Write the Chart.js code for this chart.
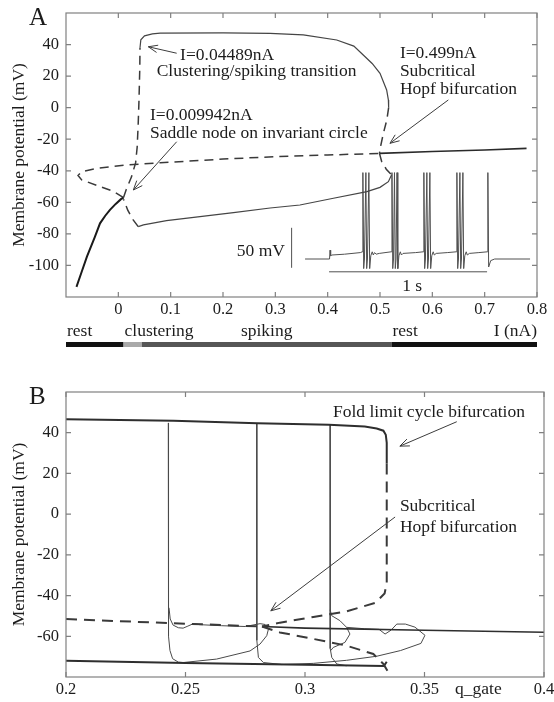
<!DOCTYPE html>
<html>
<head>
<meta charset="utf-8">
<title>Bifurcation diagrams</title>
<script src="https://cdn.jsdelivr.net/npm/chart.js@4.4.1/dist/chart.umd.min.js"></script>
<style>
	body { margin: 0; background: #fff; }
	canvas { position: absolute; left: 0; }
	#chartA { top: 0; }
	#chartB { top: 355px; }
</style>
</head>
<body>
<canvas id="chartA" width="554" height="355"></canvas>
<canvas id="chartB" width="554" height="347"></canvas>
<script>
/* ---------- Panel A: V (mV) against I (nA) ---------- */
const xTicksA = [0, 0.1, 0.2, 0.3, 0.4, 0.5, 0.6, 0.7, 0.8]
const xTickLabelsA = ['0', '0.1', '0.2', '0.3', '0.4', '0.5', '0.6', '0.7', '0.8']
const yTicksA = [-100, -80, -60, -40, -20, 0, 20, 40]

// stable rest state below the saddle node
const restLow = [[-0.08, -113.6], [-0.07, -104], [-0.06, -94.4], [-0.045, -82], [-0.035, -73.3],
	[-0.025, -68.5], [-0.016, -64.8], [-0.005, -61], [0.005, -58], [0.0099, -57]]
// unstable equilibria (saddle and unstable focus)
const eqUnstable = [[0.0099, -57], [-0.01, -53], [-0.035, -50], [-0.07, -45.8], [-0.077, -43],
	[-0.07, -40.6], [-0.04, -38.4], [0.016, -36.3], [0.08, -34.9], [0.2, -32.6], [0.303, -31],
	[0.4, -30], [0.499, -29]]
// stable rest state above the Hopf point
const restHigh = [[0.499, -29], [0.6, -27.8], [0.7, -26.8], [0.78, -25.8]]
// periodic orbit, max and min of V
const cycleMaxUnstableLow = [[0.0099, -57], [0.015, -52], [0.025, -44], [0.033, -35], [0.036, -25],
	[0.038, -10], [0.0395, 5], [0.041, 25], [0.0414, 38]]
const cycleMax = [[0.0414, 38], [0.043, 43], [0.05, 45.5], [0.065, 46.8], [0.08, 47.2], [0.2, 47.4],
	[0.29, 47.1], [0.3535, 46.1], [0.4173, 42.9], [0.45, 39], [0.468, 33.4], [0.485, 28],
	[0.5, 21.8], [0.5127, 11.2], [0.516, 4.9], [0.5165, 0]]
const cycleMaxUnstableHigh = [[0.5165, 0], [0.513, -7.8], [0.5065, -16.2], [0.501, -24.7], [0.499, -29]]
const cycleMinUnstableHigh = [[0.499, -29], [0.503, -34], [0.512, -39], [0.522, -42.6]]
const cycleMin = [[0.522, -42.6], [0.516, -46.9], [0.5, -50.5], [0.475, -53.2], [0.411, -57.4],
	[0.347, -61.7], [0.29, -63.6], [0.22, -66.5], [0.156, -69.1], [0.092, -71.6], [0.048, -74.3],
	[0.038, -75.4]]
const cycleMinUnstableLow = [[0.038, -75.4], [0.028, -71], [0.018, -65], [0.0099, -58]]

// inset voltage trace (time in s, V in mV)
const insetTime = [0, 0.155, 0.158, 0.162, 0.17, 0.25, 0.35, 0.362,
	0.366, 0.371, 0.376, 0.385, 0.39, 0.395, 0.404, 0.409, 0.416, 0.425, 0.432, 0.44, 0.45, 0.47, 0.545,
	0.55, 0.555, 0.56, 0.566, 0.571, 0.576, 0.582, 0.587, 0.594, 0.603, 0.61, 0.62, 0.7, 0.748,
	0.752, 0.757, 0.762, 0.771, 0.776, 0.781, 0.79, 0.795, 0.802, 0.811, 0.818, 0.83, 0.9, 0.957,
	0.961, 0.966, 0.971, 0.98, 0.985, 0.99, 0.999, 1.004, 1.011, 1.02, 1.027, 1.04, 1.1, 1.154,
	1.157, 1.162, 1.175, 1.2, 1.424]
const insetVolt = [-60, -60, -49, -56, -55, -54, -52, -51,
	48, -72, -60, 48, -72, -60, 48, -72, -56, -51, -55, -52, -54, -53, -51,
	48, -72, -60, 48, -72, -60, 48, -72, -56, -51, -55, -53, -52, -51,
	48, -72, -60, 48, -72, -60, 48, -72, -56, -51, -55, -53, -52, -51,
	48, -72, -60, 48, -72, -60, 48, -72, -56, -51, -55, -53, -52, -51,
	48, -70, -62, -60, -60]
const insetVoltBar = [-71, -21]   // 50 mV
const insetTimeBar = [0.152, 1.152] // 1 s

// regimes along I
const regimeEdges = [-0.1, 0.009942, 0.04489, 0.522, 0.8]
const regimeNames = ['rest', 'clustering', 'spiking', 'rest']

/* ---------- Panel B: V (mV) against q_gate ---------- */
const xTicksB = [0.2, 0.25, 0.3, 0.35, 0.4]
const xTickLabelsB = ['0.2', '0.25', '0.3', '0.35', '0.4']
const yTicksB = [-60, -40, -20, 0, 20, 40]

const topCycle = [[0.2, 46.6], [0.245, 45.9], [0.28, 44.7], [0.31, 43.9], [0.325, 43], [0.33, 42.1],
	[0.3328, 41], [0.3338, 39], [0.3342, 35], [0.3342, 24.9]]
const foldUnstableHigh = [[0.3342, 24.9], [0.3342, -34], [0.3333, -39], [0.3295, -43.5], [0.3174, -47.8],
	[0.3035, -50.5], [0.2895, -53.3], [0.282, -55.2]]
const foldUnstableLow = [[0.282, -55.2], [0.2895, -58.1], [0.3035, -61.3], [0.3174, -64.6],
	[0.3286, -68.7], [0.3328, -73.6], [0.3345, -77]]
const eqUnstableB = [[0.2, -51.5], [0.24, -53.4], [0.282, -55.2]]
const eqStableB = [[0.282, -55.2], [0.3, -56], [0.35, -57], [0.4, -58]]
const bottomCycle = [[0.2, -72], [0.25, -73.1], [0.3, -74], [0.333, -74.6], [0.3342, -72.5]]

const traj1 = [[0.2428, 44.8], [0.2428, -40], [0.243, -60], [0.2435, -67], [0.2446, -71],
	[0.247, -72.7], [0.252, -73.2]]
const traj1Settle = [[0.2431, -46], [0.2436, -51.5], [0.2448, -54.5], [0.247, -55.8], [0.249, -56],
	[0.251, -55], [0.2533, -53.8], [0.256, -54.3], [0.265, -54.8], [0.275, -55.2], [0.2812, -53.8],
	[0.2833, -54.2], [0.2847, -56.5], [0.284, -59.7], [0.2812, -63.8], [0.277, -67.2], [0.263, -71.2],
	[0.249, -72.9]]
const traj2 = [[0.2798, 44.6], [0.2798, -40], [0.2799, -62], [0.2805, -70.4], [0.2826, -72.9], [0.29, -73.8]]
const traj3 = [[0.3105, 43.8], [0.3105, -40], [0.3106, -66], [0.3112, -70.4], [0.3133, -73.6], [0.3174, -74.5]]
const traj3Loop = [[0.3105, -47], [0.3112, -49.9], [0.3146, -52.3], [0.3174, -55.6], [0.325, -56.3],
	[0.331, -56.6], [0.3335, -58.9], [0.336, -57], [0.3384, -54], [0.342, -54], [0.346, -55.5],
	[0.3502, -59.5], [0.3485, -63.5], [0.34, -67], [0.33, -69.8], [0.3174, -71.8], [0.3035, -73.3],
	[0.29, -73.9]]
const traj3Bulge = [[0.3174, -55.6], [0.3188, -58.9], [0.3167, -63], [0.3118, -65.5], [0.3108, -67]]

/* ---------- helpers ---------- */
const serif = 'Liberation Serif'
Chart.defaults.font.family = serif
Chart.defaults.color = '#1c1c1c'

function curve(pairs, opts) {
	return Object.assign({
		data: pairs.map(p => ({ x: p[0], y: p[1] })),
		showLine: true,
		pointRadius: 0,
		borderColor: '#454545',
		borderWidth: 1.2,
		fill: false,
	}, opts)
}
const dashed = { borderDash: [9, 6], borderColor: '#3a3a3a', borderWidth: 1.5 }

// box round the plot with inward ticks on all sides
const frame = {
	id: 'frame',
	afterDatasetsDraw(chart) {
		const { ctx, chartArea: a, scales: { x, y } } = chart
		ctx.save()
		ctx.strokeStyle = '#808080'
		ctx.lineWidth = 1.2
		ctx.strokeRect(a.left, a.top, a.right - a.left, a.bottom - a.top)
		ctx.beginPath()
		x.ticks.forEach(t => {
			const p = x.getPixelForValue(t.value)
			ctx.moveTo(p, a.bottom); ctx.lineTo(p, a.bottom - 5)
			ctx.moveTo(p, a.top); ctx.lineTo(p, a.top + 5)
		})
		y.ticks.forEach(t => {
			const p = y.getPixelForValue(t.value)
			ctx.moveTo(a.left, p); ctx.lineTo(a.left + 5, p)
			ctx.moveTo(a.right, p); ctx.lineTo(a.right - 5, p)
		})
		ctx.stroke()
		ctx.restore()
	},
}

// text labels and open arrows, placed in data units
function notes(texts, arrows, letter) {
	return {
		id: 'notes',
		afterDraw(chart) {
			const { ctx, chartArea: a, scales } = chart
			ctx.save()
			ctx.fillStyle = '#1c1c1c'
			ctx.font = '17.5px ' + serif
			texts.forEach(n => {
				const xs = scales[n.xs || 'x'], ys = scales[n.ys || 'y']
				ctx.textAlign = n.align || 'left'
				ctx.textBaseline = n.base || 'alphabetic'
				ctx.fillText(n.text, xs.getPixelForValue(n.x), ys.getPixelForValue(n.y))
			})
			ctx.strokeStyle = '#3c3c3c'
			ctx.lineWidth = 1
			arrows.forEach(r => {
				const x1 = scales.x.getPixelForValue(r.from[0]), y1 = scales.y.getPixelForValue(r.from[1])
				const x2 = scales.x.getPixelForValue(r.to[0]), y2 = scales.y.getPixelForValue(r.to[1])
				const ang = Math.atan2(y2 - y1, x2 - x1)
				ctx.beginPath()
				ctx.moveTo(x1, y1); ctx.lineTo(x2, y2)
				ctx.moveTo(x2 - 10 * Math.cos(ang - 0.38), y2 - 10 * Math.sin(ang - 0.38))
				ctx.lineTo(x2, y2)
				ctx.lineTo(x2 - 10 * Math.cos(ang + 0.38), y2 - 10 * Math.sin(ang + 0.38))
				ctx.stroke()
			})
			ctx.font = '25px ' + serif
			ctx.textAlign = 'left'
			ctx.textBaseline = 'alphabetic'
			ctx.fillText(letter, a.left - 37, a.top + 12)
			ctx.restore()
		},
	}
}

// rest / clustering / spiking strip under panel A
const regimeStrip = {
	id: 'regimeStrip',
	afterDraw(chart) {
		const { ctx, chartArea: a, scales: { x } } = chart
		const shades = ['#111111', '#a9a9a9', '#565656', '#111111']
		const anchor = ['start', 'start', 'center', 'start']
		ctx.save()
		ctx.font = '17.5px ' + serif
		ctx.fillStyle = '#1c1c1c'
		ctx.textBaseline = 'alphabetic'
		regimeNames.forEach((name, i) => {
			const x0 = x.getPixelForValue(regimeEdges[i]), x1 = x.getPixelForValue(regimeEdges[i + 1])
			ctx.fillStyle = shades[i]
			ctx.fillRect(x0, a.bottom + 45, x1 - x0, 5)
			ctx.fillStyle = '#1c1c1c'
			if (anchor[i] === 'center') {
				ctx.textAlign = 'center'
				ctx.fillText(name, (x0 + x1) / 2, a.bottom + 39)
			} else {
				ctx.textAlign = 'left'
				ctx.fillText(name, x0 + 1, a.bottom + 39)
			}
		})
		ctx.textAlign = 'right'
		ctx.fillText('I (nA)', a.right, a.bottom + 39)
		ctx.restore()
	},
}

const qLabel = {
	id: 'qLabel',
	afterDraw(chart) {
		const { ctx, chartArea: a, scales: { x } } = chart
		ctx.save()
		ctx.font = '17.5px ' + serif
		ctx.fillStyle = '#1c1c1c'
		ctx.textAlign = 'left'
		ctx.fillText('q_gate', x.getPixelForValue(0.3628), a.bottom + 17)
		ctx.restore()
	},
}

function axisX(min, max, ticks, labels, height) {
	return {
		type: 'linear', min, max,
		afterBuildTicks: s => { s.ticks = ticks.map(v => ({ value: v })) },
		afterFit: s => { s.height = height; s.paddingLeft = 0; s.paddingRight = 0 },
		grid: { display: false, drawTicks: false },
		border: { display: false },
		ticks: { padding: 3, font: { size: 16.5 }, maxRotation: 0, autoSkip: false, callback: (v, i) => labels[i] },
	}
}
function axisY(min, max, ticks) {
	return {
		type: 'linear', min, max,
		afterBuildTicks: s => { s.ticks = ticks.map(v => ({ value: v })) },
		afterFit: s => { s.width = 66; s.paddingTop = 0; s.paddingBottom = 0 },
		grid: { display: false, drawTicks: false },
		border: { display: false },
		ticks: { padding: 7, font: { size: 16.5 }, callback: v => String(v) },
		title: { display: true, text: 'Membrane potential (mV)', font: { size: 17.5 }, padding: { top: 9, bottom: 0 } },
	}
}

/* ---------- Panel A ---------- */
const insetLine = { xAxisID: 'tx', yAxisID: 'ty', borderColor: '#505050', borderWidth: 1 }

new Chart(document.getElementById('chartA'), {
	type: 'scatter',
	data: {
		datasets: [
			curve(restLow, { borderColor: '#1a1a1a', borderWidth: 2 }),
			curve(eqUnstable, dashed),
			curve(restHigh, { borderColor: '#2a2a2a', borderWidth: 1.6 }),
			curve(cycleMaxUnstableLow, dashed),
			curve(cycleMax),
			curve(cycleMaxUnstableHigh, dashed),
			curve(cycleMinUnstableHigh, dashed),
			curve(cycleMin),
			curve(cycleMinUnstableLow, dashed),
			Object.assign({
				data: insetTime.map((t, i) => ({ x: t, y: insetVolt[i] })),
				showLine: true, pointRadius: 0,
			}, insetLine),
			Object.assign({
				data: insetVoltBar.map(v => ({ x: -0.085, y: v })),
				showLine: true, pointRadius: 0,
			}, insetLine),
			Object.assign({
				data: insetTimeBar.map(t => ({ x: t, y: -76 })),
				showLine: true, pointRadius: 0,
			}, insetLine),
		],
	},
	options: {
		responsive: false,
		animation: false,
		layout: { padding: { top: 13, right: 17, left: 0, bottom: 0 } },
		plugins: { legend: { display: false }, tooltip: { enabled: false } },
		scales: {
			x: axisX(-0.1, 0.8, xTicksA, xTickLabelsA, 58),
			y: axisY(-120, 60, yTicksA),
			tx: { type: 'linear', display: false, min: -1.513, max: 1.468 },
			ty: { type: 'linear', display: false, min: -107.5, max: 247.5 },
		},
	},
	plugins: [frame, regimeStrip, notes(
		[
			{ text: 'I=0.04489nA', x: 0.118, y: 30.2 },
			{ text: 'Clustering/spiking transition', x: 0.0733, y: 20 },
			{ text: 'I=0.009942nA', x: 0.0605, y: -7.8 },
			{ text: 'Saddle node on invariant circle', x: 0.0605, y: -19.2 },
			{ text: 'I=0.499nA', x: 0.538, y: 31.5 },
			{ text: 'Subcritical', x: 0.538, y: 20 },
			{ text: 'Hopf bifurcation', x: 0.538, y: 8.7 },
			{ text: '50 mV', x: -0.127, y: -51, xs: 'tx', ys: 'ty', align: 'right', base: 'middle' },
			{ text: '1 s', x: 0.678, y: -94, xs: 'tx', ys: 'ty', align: 'center', base: 'middle' },
		],
		[
			{ from: [0.1115, 34.5], to: [0.0573, 38.6] },
			{ from: [0.1115, -21.6], to: [0.0286, -52.2] },
			{ from: [0.6306, 4.9], to: [0.519, -22.6] },
		],
		'A'
	)],
})

/* ---------- Panel B ---------- */
const thick = { borderColor: '#2e2e2e', borderWidth: 2 }
const thickDash = { borderColor: '#3a3a3a', borderWidth: 2, borderDash: [11, 7] }
const thin = { borderColor: '#4a4a4a', borderWidth: 1 }

new Chart(document.getElementById('chartB'), {
	type: 'scatter',
	data: {
		datasets: [
			curve(topCycle, thick),
			curve(foldUnstableHigh, thickDash),
			curve(foldUnstableLow, thickDash),
			curve(eqUnstableB, thickDash),
			curve(eqStableB, { borderColor: '#2e2e2e', borderWidth: 1.6 }),
			curve(bottomCycle, thick),
			curve(traj1, thin),
			curve(traj1Settle, thin),
			curve(traj2, thin),
			curve(traj3, thin),
			curve(traj3Loop, thin),
			curve(traj3Bulge, thin),
		],
	},
	options: {
		responsive: false,
		animation: false,
		layout: { padding: { top: 37, right: 10, left: 0, bottom: 0 } },
		plugins: { legend: { display: false }, tooltip: { enabled: false } },
		scales: {
			x: axisX(0.2, 0.4, xTicksB, xTickLabelsB, 25),
			y: axisY(-80, 60, yTicksB),
		},
	},
	plugins: [frame, qLabel, notes(
		[
			{ text: 'Fold limit cycle bifurcation', x: 0.3117, y: 47.7 },
			{ text: 'Subcritical', x: 0.3397, y: 1.4 },
			{ text: 'Hopf bifurcation', x: 0.3397, y: -9 },
		],
		[
			{ from: [0.3635, 45.4], to: [0.3397, 33.4] },
			{ from: [0.3377, -1.4], to: [0.2857, -47.5] },
		],
		'B'
	)],
})
</script>
</body>
</html>
